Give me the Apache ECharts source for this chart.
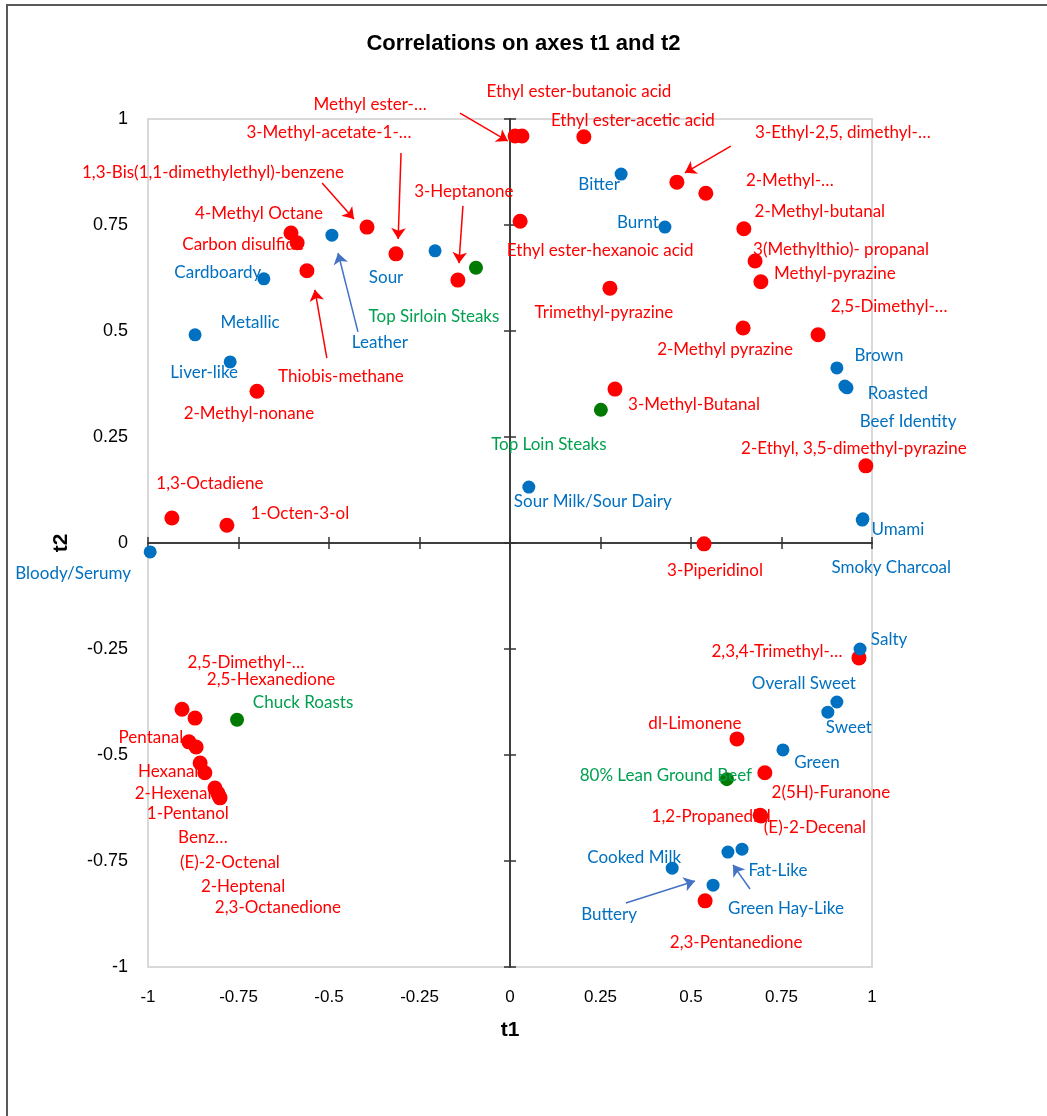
<!DOCTYPE html>
<html>
<head>
<meta charset="utf-8">
<script src="https://cdn.jsdelivr.net/npm/echarts@6/dist/echarts.min.js"></script>
<style>
  html, body { margin: 0; padding: 0; background: #fff; }
  #chart { width: 1047px; height: 1116px; }
</style>
</head>
<body>
<div id="chart"></div>
<script>
// volatile compounds (red)
const redNames = ['Methyl ester-…', 'Ethyl ester-butanoic acid', 'Ethyl ester-acetic acid', '3-Methyl-acetate-1-…',
  '1,3-Bis(1,1-dimethylethyl)-benzene', '3-Heptanone', '4-Methyl Octane', 'Carbon disulfide', 'Thiobis-methane',
  'Ethyl ester-hexanoic acid', '3-Ethyl-2,5, dimethyl-…', '2-Methyl-…', '2-Methyl-butanal', '3(Methylthio)- propanal',
  'Methyl-pyrazine', 'Trimethyl-pyrazine', '2,5-Dimethyl-…', '2-Methyl pyrazine', '3-Methyl-Butanal',
  '2-Ethyl, 3,5-dimethyl-pyrazine', '3-Piperidinol', '2-Methyl-nonane', '1,3-Octadiene', '1-Octen-3-ol',
  '2,3,4-Trimethyl-…', 'dl-Limonene', '2(5H)-Furanone', '1,2-Propanediol', '(E)-2-Decenal', '2,3-Pentanedione',
  '2,5-Dimethyl-…', '2,5-Hexanedione', 'Pentanal', 'Hexanal', '2-Hexenal', '1-Pentanol', 'Benz…',
  '(E)-2-Octenal', '2-Heptenal', '2,3-Octanedione']
const redX = [0.014, 0.033, 0.204, -0.315, -0.395, -0.144, -0.605, -0.588, -0.561, 0.028, 0.461, 0.541, 0.646, 0.677,
  0.693, 0.276, 0.851, 0.644, 0.290, 0.983, 0.536, -0.699, -0.934, -0.782, 0.964, 0.627, 0.704, 0.691, 0.693, 0.539,
  -0.906, -0.870, -0.887, -0.867, -0.856, -0.843, -0.815, -0.807, -0.801, -0.804]
const redY = [0.960, 0.960, 0.958, 0.682, 0.745, 0.620, 0.731, 0.708, 0.642, 0.759, 0.851, 0.825, 0.741, 0.665,
  0.616, 0.601, 0.491, 0.507, 0.363, 0.182, -0.002, 0.358, 0.059, 0.042, -0.271, -0.462, -0.542, -0.642, -0.644, -0.844,
  -0.392, -0.413, -0.469, -0.481, -0.519, -0.542, -0.578, -0.590, -0.601, -0.596]

// sensory attributes (blue)
const blueNames = ['Bitter', 'Burnt', 'Leather', 'Sour', 'Cardboardy', 'Metallic', 'Liver-like', 'Brown', 'Roasted',
  'Beef Identity', 'Sour Milk/Sour Dairy', 'Umami', 'Smoky Charcoal', 'Bloody/Serumy', 'Salty', 'Overall Sweet',
  'Sweet', 'Green', 'Fat-Like', 'Buttery', 'Cooked Milk', 'Green Hay-Like']
const blueX = [0.307, 0.428, -0.492, -0.207, -0.680, -0.870, -0.773, 0.903, 0.925, 0.931, 0.052, 0.975, 0.973,
  -0.994, 0.967, 0.903, 0.878, 0.754, 0.602, 0.561, 0.448, 0.641]
const blueY = [0.870, 0.745, 0.726, 0.689, 0.623, 0.491, 0.427, 0.413, 0.370, 0.366, 0.132, 0.057, 0.054,
  -0.021, -0.250, -0.375, -0.399, -0.488, -0.729, -0.807, -0.767, -0.722]

// products (green)
const greenNames = ['Top Sirloin Steaks', 'Top Loin Steaks', 'Chuck Roasts', '80% Lean Ground Beef']
const greenX = [-0.094, 0.251, -0.754, 0.599]
const greenY = [0.649, 0.314, -0.417, -0.557]

// label placement (pixel offset of label centre from its point), layout only
const redLabelOffset = [[-145, -31], [57, -44], [49, -16], [-67, -121], [-154, -55], [6, -89], [-32, -20], [-54, 2],
  [34, 106], [80, 29], [166, -50], [84, -13], [76, -17], [86, -12], [74, -8], [-6, 24], [71, -28], [-18, 21], [79, 15],
  [-12, -17], [11, 27], [-8, 22], [38, -34], [73, -12], [-82, -6], [-42, -15], [66, 20], [-49, 1], [54, 11], [31, 42],
  [64, -47], [76, -39], [-38, -4], [-28, 25], [-27, 30], [-17, 41], [-12, 49], [12, 69], [23, 89], [59, 112]]
const blueLabelOffset = [[-22, 10], [-27, -5], [48, 107], [-49, 27], [-46, -6], [55, -12], [-26, 11], [42, -12],
  [53, 7], [61, 34], [64, 14], [35, 11], [29, 47], [-77, 22], [29, -9], [-33, -18], [21, 15], [34, 13], [50, 18],
  [-104, 29], [-38, -11], [44, 59]]
const greenLabelOffset = [[-42, 49], [-52, 35], [66, -17], [-61, -4]]

// leader arrows (tail, head) in axis units
const arrowFrom = [[-0.138, 1.014], [-0.301, 0.920], [-0.519, 0.849], [-0.130, 0.795], [-0.506, 0.436],
  [-0.420, 0.498], [0.610, 0.936], [0.663, -0.816], [0.320, -0.849]]
const arrowTo = [[-0.006, 0.948], [-0.309, 0.717], [-0.431, 0.764], [-0.141, 0.660], [-0.539, 0.597],
  [-0.475, 0.684], [0.483, 0.873], [0.616, -0.759], [0.511, -0.797]]
const arrowColor = ['#FF0000', '#FF0000', '#FF0000', '#FF0000', '#FF0000', '#4472C4', '#FF0000', '#4472C4', '#4472C4']

const labelFont = 'Lato, "Liberation Sans", sans-serif'

function buildPoints(names, xs, ys, offsets) {
  return names.map((n, i) => ({
    name: n,
    value: [xs[i], ys[i]],
    label: { offset: offsets[i] }
  }))
}

function pointSeries(names, xs, ys, offsets, dotColor, textColor, size) {
  return {
    type: 'scatter',
    data: buildPoints(names, xs, ys, offsets),
    symbolSize: size,
    itemStyle: { color: dotColor, opacity: 1 },
    z: 3,
    label: {
      show: true,
      position: 'inside',
      formatter: '{b}',
      color: textColor,
      fontFamily: labelFont,
      fontSize: 17,
      align: 'center',
      verticalAlign: 'middle'
    },
    emphasis: { disabled: true }
  }
}

const zeroLine = { onZero: true, onZeroAxisIndex: 0, lineStyle: { color: '#333', width: 1.5 } }

const chart = echarts.init(document.getElementById('chart'))
const option = {
  animation: false,
  title: {
    text: 'Correlations on axes t1 and t2',
    left: 'center',
    top: 28,
    textStyle: { fontFamily: '"Liberation Sans", Arial, sans-serif', fontSize: 22, fontWeight: 'bold', color: '#000' }
  },
  graphic: [{
    type: 'rect',
    shape: { x: 7, y: 5, width: 1100, height: 1200 },
    style: { fill: 'none', stroke: '#595959', lineWidth: 2 },
    silent: true
  }],
  grid: {
    left: 148, top: 119, width: 724, height: 848,
    show: true, borderColor: '#D9D9D9', borderWidth: 2
  },
  xAxis: [
    {
      type: 'value', min: -1, max: 1, interval: 0.25,
      position: 'bottom',
      axisLine: { show: false, onZero: false },
      axisTick: { show: false },
      splitLine: { show: false },
      axisLabel: { margin: 22, fontFamily: '"Liberation Sans Narrow", "Liberation Sans", sans-serif', fontSize: 17, color: '#000' },
      name: 't1', nameLocation: 'middle', nameGap: 53,
      nameTextStyle: { fontFamily: '"Liberation Sans", Arial, sans-serif', fontSize: 21, fontWeight: 'bold', color: '#000' }
    },
    {
      type: 'value', min: -1, max: 1, interval: 0.25, position: 'bottom',
      axisLine: zeroLine, axisTick: { inside: true, length: 6, lineStyle: { color: '#333', width: 1.5 } },
      axisLabel: { show: false }, splitLine: { show: false }
    },
    {
      type: 'value', min: -1, max: 1, interval: 0.25, position: 'bottom',
      axisLine: zeroLine, axisTick: { inside: false, length: 6, lineStyle: { color: '#333', width: 1.5 } },
      axisLabel: { show: false }, splitLine: { show: false }
    }
  ],
  yAxis: [
    {
      type: 'value', min: -1, max: 1, interval: 0.25,
      position: 'left',
      axisLine: { show: false, onZero: false },
      axisTick: { show: false },
      splitLine: { show: false },
      axisLabel: { margin: 20, fontFamily: '"Liberation Sans", Arial, sans-serif', fontSize: 18, color: '#000' },
      name: 't2', nameLocation: 'middle', nameGap: 76,
      nameTextStyle: { fontFamily: '"Liberation Sans", Arial, sans-serif', fontSize: 21, fontWeight: 'bold', color: '#000' }
    },
    {
      type: 'value', min: -1, max: 1, interval: 0.25, position: 'left',
      axisLine: zeroLine, axisTick: { inside: true, length: 6, lineStyle: { color: '#333', width: 1.5 } },
      axisLabel: { show: false }, splitLine: { show: false }
    },
    {
      type: 'value', min: -1, max: 1, interval: 0.25, position: 'left',
      axisLine: zeroLine, axisTick: { inside: false, length: 6, lineStyle: { color: '#333', width: 1.5 } },
      axisLabel: { show: false }, splitLine: { show: false }
    }
  ],
  series: [
    {
      type: 'lines',
      coordinateSystem: 'cartesian2d',
      clip: false,
      symbol: ['none', 'arrow'],
      symbolSize: [0, 11],
      z: 2,
      data: arrowFrom.map((f, i) => ({
        coords: [f, arrowTo[i]],
        lineStyle: { color: arrowColor[i], width: 1.5, opacity: 1 }
      }))
    },
    pointSeries(redNames, redX, redY, redLabelOffset, '#FF0000', '#FF0000', 15),
    pointSeries(blueNames, blueX, blueY, blueLabelOffset, '#0070C0', '#0070C0', 13),
    pointSeries(greenNames, greenX, greenY, greenLabelOffset, '#007A00', '#00A050', 14)
  ]
}
chart.setOption(option)
</script>
</body>
</html>
